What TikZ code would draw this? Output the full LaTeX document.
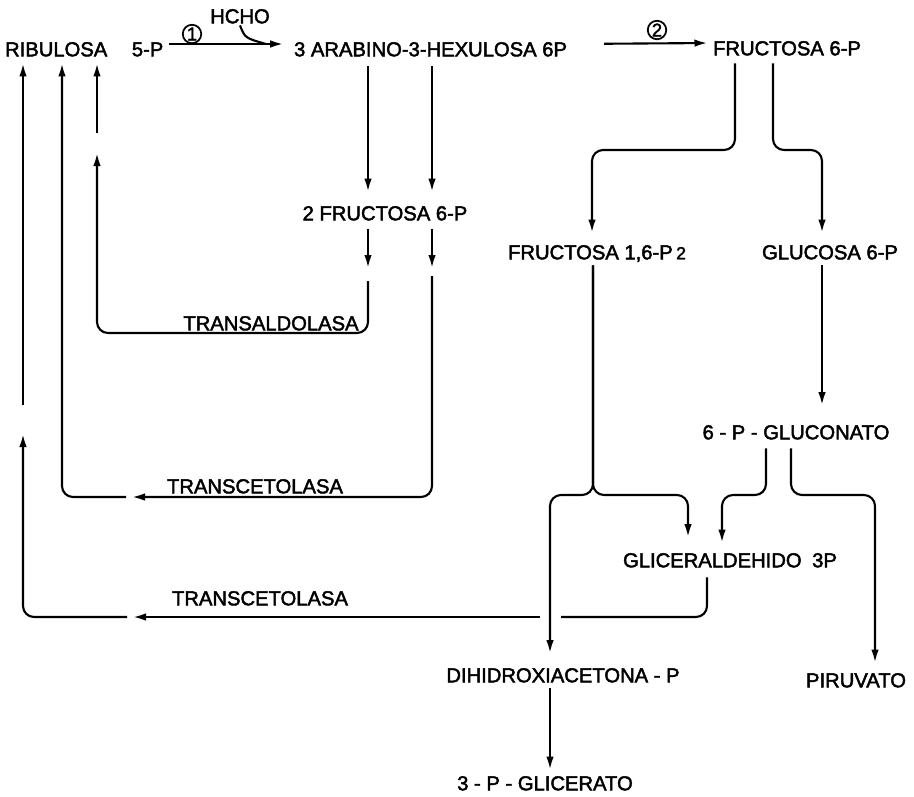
\documentclass[tikz,border=0pt]{standalone}
\usepackage{fontspec}
\newfontfamily\lettering[FakeBold=2.2]{Liberation Sans}
\usetikzlibrary{arrows.meta}
\begin{document}
\begin{tikzpicture}[x=0.2mm,y=-0.2mm,
  t/.style={font={\lettering\fontsize{11.5}{13}\selectfont},inner sep=1pt,text height=8.3pt,text depth=0pt},
  num/.style={circle,draw,line width=1pt,inner sep=0pt,minimum size=3.7mm,font={\lettering\fontsize{10.5}{11}\selectfont}},
  ln/.style={line width=1.2pt},
  link/.style={ln,-{Latex[length=2.6mm,width=1.5mm]}},
  turn/.style={rounded corners=2.2mm}]
 \useasboundingbox (0,0) rectangle (914,796);
 % top row
 \node[t,anchor=west] (ribu) at (3,49) {RIBULOSA\hspace{14pt}5-P};
 \node[t,anchor=west] (arab) at (292,49) {3 ARABINO-3-HEXULOSA 6P};
 \node[t,anchor=west] (fru6p) at (711,48) {FRUCTOSA 6-P};
 \node[t] (hcho) at (240,16) {HCHO};
 \node[num] (c1) at (192,34) {1};
 \node[num] (c2) at (657,30) {2};
 % middle and bottom
 \node[t] (fru2) at (385,213) {2 FRUCTOSA 6-P};
 \node[t] (frubis) at (597,252) {FRUCTOSA 1,6-P\,{\fontsize{10}{11}\selectfont 2}};
 \node[t] (glu6p) at (830,252) {GLUCOSA 6-P};
 \node[t] (glucon) at (796,432) {6 - P - GLUCONATO};
 \node[t] (gap3p) at (730,560) {GLICERALDEHIDO\hspace{6pt}3P};
 \node[t] (dhap) at (563,675) {DIHIDROXIACETONA - P};
 \node[t] (pir) at (856,680) {PIRUVATO};
 \node[t] (pgl) at (545,783) {3 - P - GLICERATO};
 \node[t] (lab1) at (271,323) {TRANSALDOLASA};
 \node[t] (lab2) at (255,486) {TRANSCETOLASA};
 \node[t] (lab3) at (260,598) {TRANSCETOLASA};
 % reactions 1 and 2
 \draw[link,shorten <=2pt,shorten >=5pt] ([yshift=1mm]ribu.east) -- ([yshift=1mm]arab.west);
 \draw[ln] (hcho.south) .. controls (245,38) .. (266,44);
 \draw[link,shorten <=7mm,shorten >=2pt] ([yshift=1mm]arab.east) -- ([yshift=1mm]fru6p.west);
 % to 2 fructosa 6-P
 \draw[link,shorten <=1.6mm,shorten >=2.4mm] (arab.south -| 368,0) -- (fru2.north -| 368,0);
 \draw[link,shorten <=1.6mm,shorten >=2.4mm] (arab.south -| 432,0) -- (fru2.north -| 432,0);
 \draw[link,shorten <=1.3mm] (fru2.south -| 368,0) -- (368,268);
 \draw[link,shorten <=1.3mm] (fru2.south -| 432,0) -- (432,268);
 % transaldolasa
 \draw[link,turn] (368,281) |- (97,333) -- (97,153);
 \draw[link,shorten >=1mm] (97,133) -- (ribu.south -| 97,0);
 % transcetolasa
 \draw[link,turn] (432,276) |- (132,497);
 \draw[link,turn,shorten >=1mm] (126,497) -| (ribu.south -| 62,0);
 \draw[ln,turn,shorten <=1.6mm] (gap3p.south -| 707,0) |- (561,617);
 \draw[link] (540,617) -- (133,617);
 \draw[link,turn] (127,617) -| (23,434);
 \draw[link,shorten >=1mm] (23,405) -- (ribu.south -| 23,0);
 % fructosa 6-P split
 \draw[link,turn,shorten <=1.2mm,shorten >=2mm] (fru6p.south -| 735,0) |- (592,150) -- (frubis.north -| 592,0);
 \draw[link,turn,shorten <=1.2mm,shorten >=2mm] (fru6p.south -| 773,0) |- (822,150) -- (glu6p.north -| 822,0);
 % triosas
 \draw[link,turn,shorten <=0.8mm,shorten >=2.5mm] (frubis.south -| 593,0) -- (593,495) -| (dhap.north -| 550,0);
 \draw[link,turn,shorten <=0.8mm,shorten >=2.7mm] (frubis.south -| 593,0) -- (593,495) -| (gap3p.north -| 688,0);
 \draw[link,shorten <=0.8mm,shorten >=3.5mm] (glu6p.south -| 822,0) -- (glucon.north -| 822,0);
 \draw[link,turn,shorten <=1.4mm,shorten >=1.6mm] (glucon.south -| 766,0) |- (722,495) -- (gap3p.north -| 722,0);
 \draw[link,turn,shorten <=1.4mm,shorten >=1.6mm] (glucon.south -| 791,0) |- (875,495) -- (pir.north -| 875,0);
 \draw[link,shorten <=0.8mm,shorten >=0.8mm] (dhap.south -| 550,0) -- (pgl.north -| 550,0);
\end{tikzpicture}
\end{document}
